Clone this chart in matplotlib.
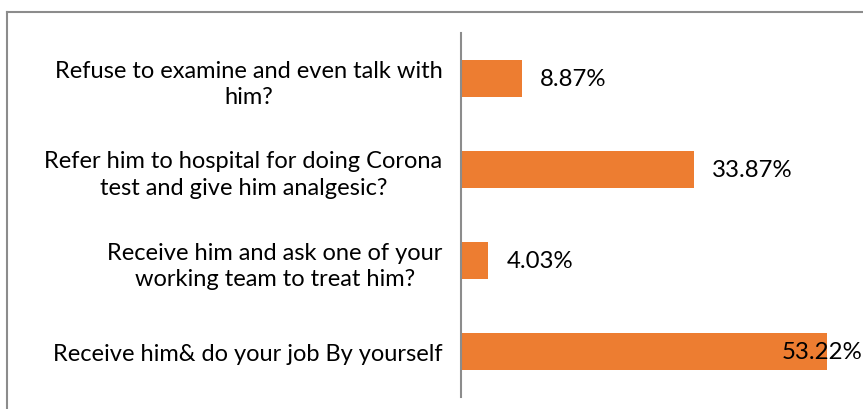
import numpy as np
from matplotlib import pyplot as plt
from matplotlib.lines import Line2D

categories = [
    "Refuse to examine and even talk with\nhim?",
    "Refer him to hospital for doing Corona\ntest and give him analgesic?",
    "Receive him and ask one of your\nworking team to treat him?",
    "Receive him& do your job By yourself",
]
values = [8.87, 33.87, 4.03, 53.22]
labels = ["8.87%", "33.87%", "4.03%", "53.22%"]

bar_color = "#ED7D31"
frame_color = "#8c8c8c"

plt.rcParams["font.family"] = ["Lato", "DejaVu Sans"]

fig = plt.figure(figsize=(8.63, 4.10), dpi=100)
ax = fig.add_axes([460.5 / 863, 12 / 410, 1 - 460.5 / 863, 364 / 410])

y = np.arange(len(categories))
ax.barh(y, values, height=0.4, color=bar_color)
ax.set_ylim(len(categories) - 0.5, -0.5)
ax.set_xlim(0, 58.5)

ax.set_yticks(y)
ax.set_yticklabels(categories, fontsize=17, multialignment="center",
                   linespacing=1.35)
ax.tick_params(axis="y", length=0, pad=13)
ax.set_xticks([])

for sp in ["top", "right", "bottom"]:
    ax.spines[sp].set_visible(False)
ax.spines["left"].set_color(frame_color)
ax.spines["left"].set_linewidth(1.5)

for i, (v, lab) in enumerate(zip(values, labels)):
    if i == len(values) - 1:
        ax.annotate(lab, (v, i), xytext=(-32.5, 0), textcoords="offset points",
                    va="center", ha="left", fontsize=17.3)
    else:
        ax.annotate(lab, (v, i), xytext=(13, 0), textcoords="offset points",
                    va="center", ha="left", fontsize=17.3)

# outer chart frame (top and left edges visible)
fig.add_artist(Line2D([7 / 863, 1], [1 - 13 / 410, 1 - 13 / 410],
                      transform=fig.transFigure, color=frame_color, lw=1.5))
fig.add_artist(Line2D([7 / 863, 7 / 863], [0, 1 - 13 / 410],
                      transform=fig.transFigure, color=frame_color, lw=1.5))

fig.savefig("out.png", dpi=100)
